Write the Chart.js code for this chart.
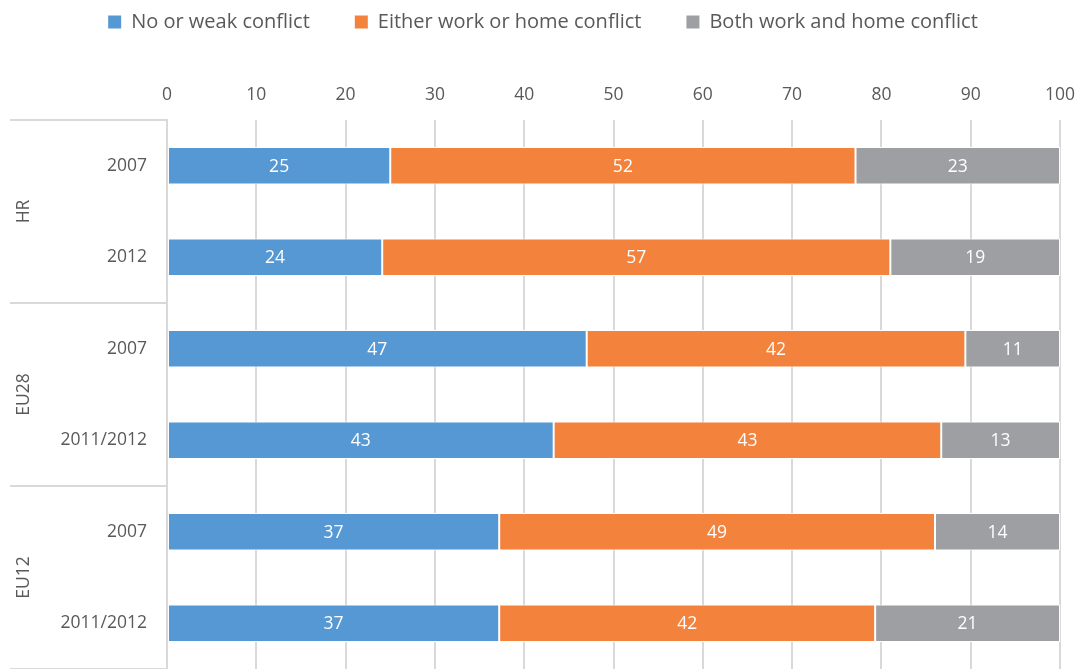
<!DOCTYPE html>
<html>
<head>
<meta charset="utf-8">
<script src="https://cdn.jsdelivr.net/npm/chart.js@4/dist/chart.umd.min.js"></script>
<style>
  html, body { margin: 0; padding: 0; background: #ffffff; }
  #wrap { width: 1077px; height: 669px; }
</style>
</head>
<body>
<div id="wrap"><canvas id="c" width="1077" height="669"></canvas></div>
<script>
// ---- data ----
const yearLabels = ['2007', '2012', '2007', '2011/2012', '2007', '2011/2012'];
const groupLabels = ['HR', 'EU28', 'EU12'];
const seriesNames = ['No or weak conflict', 'Either work or home conflict', 'Both work and home conflict'];
const noConflict     = [25.0, 24.1, 47.0, 43.3, 37.2, 37.2];
const eitherConflict = [52.1, 56.9, 42.4, 43.4, 48.8, 42.1];
const bothConflict   = [22.9, 19.0, 10.6, 13.3, 14.0, 20.7];
const seriesColors = ['#5698d3', '#f3823d', '#9d9fa2'];

const TEXT = '#595959';
const GRID = '#d9d9d9';
const FONT = '"Open Sans", "Noto Sans", sans-serif';

const extras = {
  id: 'extras',
  afterDatasetsDraw(chart) {
    const ctx = chart.ctx;
    ctx.save();
    ctx.fillStyle = '#ffffff';
    ctx.font = '17.5px ' + FONT;
    ctx.textAlign = 'center';
    ctx.textBaseline = 'middle';
    chart.data.datasets.forEach((ds, i) => {
      const meta = chart.getDatasetMeta(i);
      meta.data.forEach((bar, j) => {
        const p = bar.getProps(['x', 'y', 'base'], true);
        ctx.fillText(String(Math.round(ds.data[j])), (p.x + p.base) / 2, p.y + 1);
      });
    });
    ctx.restore();
  },
  afterDraw(chart) {
    const ctx = chart.ctx;
    const area = chart.chartArea;
    const y = chart.scales.y;
    const per = yearLabels.length / groupLabels.length;
    const band = (area.bottom - area.top) / yearLabels.length;
    ctx.save();
    ctx.strokeStyle = GRID;
    ctx.lineWidth = 2;
    for (let g = 0; g <= groupLabels.length; g++) {
      const yy = Math.round(area.top + g * per * band);
      ctx.beginPath();
      ctx.moveTo(10, yy);
      ctx.lineTo(area.left, yy);
      ctx.stroke();
    }
    ctx.fillStyle = TEXT;
    ctx.font = '17.5px ' + FONT;
    ctx.textAlign = 'center';
    ctx.textBaseline = 'middle';
    groupLabels.forEach((lab, g) => {
      const yy = (y.getPixelForTick(g * per) + y.getPixelForTick(g * per + per - 1)) / 2;
      ctx.save();
      ctx.translate(24, yy);
      ctx.rotate(-Math.PI / 2);
      ctx.fillText(lab, 0, 0);
      ctx.restore();
    });
    ctx.restore();
  }
};

new Chart(document.getElementById('c'), {
  type: 'bar',
  data: {
    labels: yearLabels,
    datasets: [
      { label: seriesNames[0], data: noConflict, backgroundColor: seriesColors[0] },
      { label: seriesNames[1], data: eitherConflict, backgroundColor: seriesColors[1] },
      { label: seriesNames[2], data: bothConflict, backgroundColor: seriesColors[2] }
    ].map(d => Object.assign(d, { borderColor: '#ffffff', borderWidth: 1, borderSkipped: false,
                                  categoryPercentage: 1, barPercentage: 0.41 }))
  },
  options: {
    indexAxis: 'y',
    responsive: false,
    animation: false,
    devicePixelRatio: 1,
    layout: { padding: { top: -33, left: 26, right: 17, bottom: -5 } },
    plugins: {
      legend: {
        position: 'top',
        align: 'center',
        labels: {
          color: TEXT,
          font: { family: FONT, size: 20 },
          boxWidth: 13,
          boxHeight: 13,
          padding: 45,
          generateLabels(chart) {
            const items = Chart.defaults.plugins.legend.labels.generateLabels(chart);
            items.forEach(it => { it.lineWidth = 0; });
            return items;
          }
        }
      },
      tooltip: { enabled: false }
    },
    scales: {
      x: {
        position: 'top',
        stacked: true,
        min: 0,
        max: 100,
        ticks: { stepSize: 10, color: TEXT, font: { family: FONT, size: 17.5 }, padding: 14 },
        grid: { color: GRID, lineWidth: 2, drawTicks: false },
        border: { display: false },
        afterFit(scale) { scale.height = 78; scale.paddingLeft = 0; scale.paddingRight = 0; }
      },
      y: {
        stacked: true,
        ticks: { color: TEXT, font: { family: FONT, size: 17.5 }, padding: 20 },
        grid: { display: false, drawTicks: false },
        border: { display: true, color: GRID, width: 2 },
        afterFit(scale) { scale.width = 141; scale.paddingTop = 0; scale.paddingBottom = 0; }
      }
    }
  },
  plugins: [extras]
});
</script>
</body>
</html>
